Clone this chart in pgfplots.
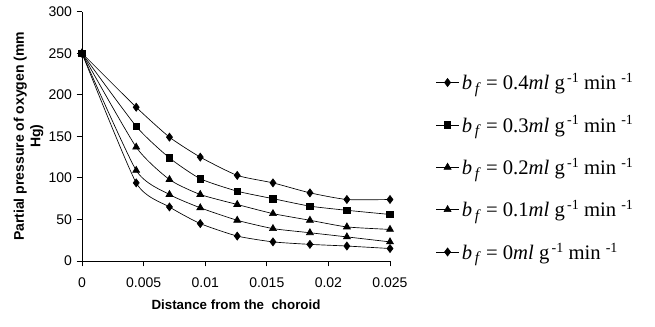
\documentclass[border=0pt]{standalone}
\usepackage{pgfplots}
\pgfplotsset{compat=1.18}
\usepackage{fontspec}
\setmainfont{Liberation Sans}
\newfontfamily\tnr{Liberation Serif}
\newcommand{\bflab}[1]{{\tnr\textit{b}\raisebox{-0.4ex}{\fontsize{11.5}{12}\selectfont\textit{\,f}}\ = #1\textit{ml}\ g\raisebox{0.75ex}{\fontsize{10.5}{11}\selectfont\,-1}\ min\ \raisebox{0.75ex}{\fontsize{10.5}{11}\selectfont -1}}}
\begin{document}
\begin{tikzpicture}
\begin{axis}[
  at={(0,0)}, anchor=south west,
  scale only axis, width=231pt, height=187pt,
  xmin=0, xmax=0.025, ymin=0, ymax=300,
  axis lines*=left, axis line style={-, line width=0.6pt},
  tick align=outside, tick style={black, line width=0.6pt}, major tick length=4pt,
  scaled x ticks=false,
  xtick={0,0.005,0.01,0.015,0.02,0.025},
  xticklabels={0,0.005,0.01,0.015,0.02,0.025},
  ytick={0,50,...,300},
  yticklabel style={font=\fontsize{10.5}{12}\selectfont},
  xticklabel style={font=\fontsize{10.5}{12}\selectfont, yshift=-5pt},
  /pgf/number format/assume math mode=true,
  xlabel={\textbf{Distance from the\ \ choroid}},
  ylabel={\textbf{Partial pressure of oxygen (mm}\\\textbf{Hg)}},
  xlabel style={font=\fontsize{10}{12}\selectfont, yshift=-2pt},
  ylabel style={font=\fontsize{10.5}{12.5}\selectfont, align=center, yshift=-3pt},
  legend style={draw=none, fill=none, at={(rel axis cs:1.135,0.775)}, anchor=north west,
    row sep=14pt, font=\fontsize{15.5}{17}\selectfont, cells={anchor=west}},
  legend cell align=left,
  every axis plot/.append style={black, line width=0.5pt, smooth, tension=0.35},
]
\addplot[mark=diamond*, mark size=3pt] coordinates {
(0,250) (0.0044,185) (0.0071,149) (0.0096,125) (0.0126,103) (0.0155,94) (0.0185,82) (0.0215,74) (0.025,74)};
\addplot[mark=square*, mark size=2.4pt] coordinates {
(0,250) (0.0044,162) (0.0071,124) (0.0096,99) (0.0126,84) (0.0155,75) (0.0185,66) (0.0215,61) (0.025,56)};
\addplot[mark=triangle*, mark size=3pt] coordinates {
(0,250) (0.0044,137) (0.0071,98) (0.0096,80) (0.0126,68) (0.0155,57) (0.0185,49) (0.0215,41) (0.025,38)};
\addplot[mark=triangle*, mark size=3pt] coordinates {
(0,250) (0.0044,109) (0.0071,80) (0.0096,64) (0.0126,49) (0.0155,39) (0.0185,34) (0.0215,29) (0.025,23)};
\addplot[mark=diamond*, mark size=3pt] coordinates {
(0,250) (0.0044,94) (0.0071,65) (0.0096,45) (0.0126,30) (0.0155,23) (0.0185,20) (0.0215,18) (0.025,15)};
\legend{\bflab{0.4}, \bflab{0.3}, \bflab{0.2}, \bflab{0.1}, \bflab{0}}
\end{axis}
\pgfresetboundingbox
\useasboundingbox (-61.5pt,-49.5pt) rectangle (429.75pt,195.75pt);
\end{tikzpicture}
\end{document}
